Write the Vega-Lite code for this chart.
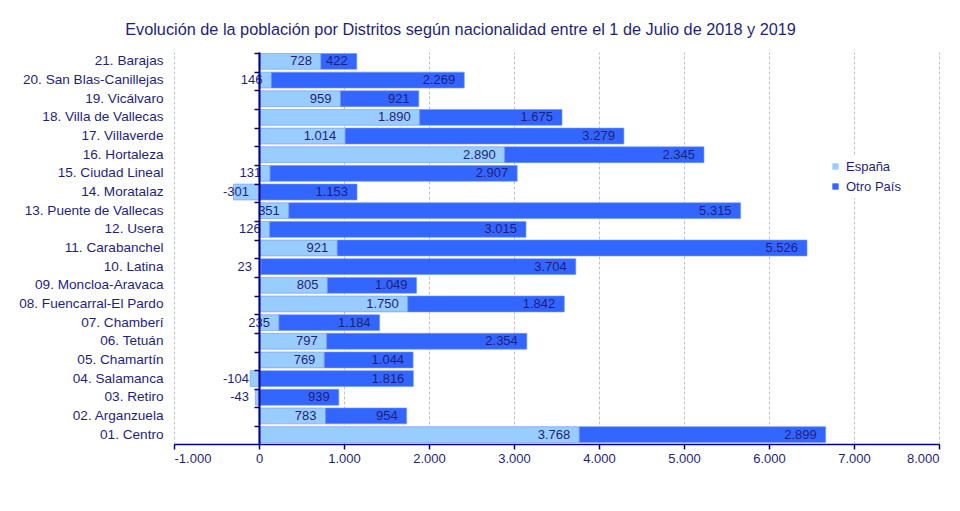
{
  "$schema": "https://vega.github.io/schema/vega-lite/v6.json",
  "autosize": "none",
  "width": 765,
  "height": 392,
  "padding": {"left": 174, "top": 52, "right": 21, "bottom": 67},
  "background": "white",
  "title": {
    "text": "Evolución  de la población por Distritos según nacionalidad  entre el 1 de Julio de 2018 y 2019",
    "anchor": "middle",
    "dx": -96,
    "offset": 14,
    "fontSize": 16.3,
    "font": "Liberation Sans",
    "fontWeight": "normal",
    "color": "#1f1f7a"
  },
  "config": {
    "locale": {"number": {"decimal": ",", "thousands": ".", "grouping": [3], "currency": ["", " €"], "minus": "-"}},
    "font": "Liberation Sans",
    "view": {"stroke": null}
  },
  "data": {
    "values": [
      {"d": "21. Barajas", "n": "España", "v": 728},
      {"d": "21. Barajas", "n": "Otro País", "v": 422},
      {"d": "20. San Blas-Canillejas", "n": "España", "v": 146},
      {"d": "20. San Blas-Canillejas", "n": "Otro País", "v": 2269},
      {"d": "19. Vicálvaro", "n": "España", "v": 959},
      {"d": "19. Vicálvaro", "n": "Otro País", "v": 921},
      {"d": "18. Villa de Vallecas", "n": "España", "v": 1890},
      {"d": "18. Villa de Vallecas", "n": "Otro País", "v": 1675},
      {"d": "17. Villaverde", "n": "España", "v": 1014},
      {"d": "17. Villaverde", "n": "Otro País", "v": 3279},
      {"d": "16. Hortaleza", "n": "España", "v": 2890},
      {"d": "16. Hortaleza", "n": "Otro País", "v": 2345},
      {"d": "15. Ciudad Lineal", "n": "España", "v": 131},
      {"d": "15. Ciudad Lineal", "n": "Otro País", "v": 2907},
      {"d": "14. Moratalaz", "n": "España", "v": -301},
      {"d": "14. Moratalaz", "n": "Otro País", "v": 1153},
      {"d": "13.  Puente de Vallecas", "n": "España", "v": 351},
      {"d": "13.  Puente de Vallecas", "n": "Otro País", "v": 5315},
      {"d": "12. Usera", "n": "España", "v": 126},
      {"d": "12. Usera", "n": "Otro País", "v": 3015},
      {"d": "11. Carabanchel", "n": "España", "v": 921},
      {"d": "11. Carabanchel", "n": "Otro País", "v": 5526},
      {"d": "10. Latina", "n": "España", "v": 23},
      {"d": "10. Latina", "n": "Otro País", "v": 3704},
      {"d": "09. Moncloa-Aravaca", "n": "España", "v": 805},
      {"d": "09. Moncloa-Aravaca", "n": "Otro País", "v": 1049},
      {"d": "08. Fuencarral-El Pardo", "n": "España", "v": 1750},
      {"d": "08. Fuencarral-El Pardo", "n": "Otro País", "v": 1842},
      {"d": "07. Chamberí", "n": "España", "v": 235},
      {"d": "07. Chamberí", "n": "Otro País", "v": 1184},
      {"d": "06. Tetuán", "n": "España", "v": 797},
      {"d": "06. Tetuán", "n": "Otro País", "v": 2354},
      {"d": "05. Chamartín", "n": "España", "v": 769},
      {"d": "05. Chamartín", "n": "Otro País", "v": 1044},
      {"d": "04. Salamanca", "n": "España", "v": -104},
      {"d": "04. Salamanca", "n": "Otro País", "v": 1816},
      {"d": "03. Retiro", "n": "España", "v": -43},
      {"d": "03. Retiro", "n": "Otro País", "v": 939},
      {"d": "02. Arganzuela", "n": "España", "v": 783},
      {"d": "02. Arganzuela", "n": "Otro País", "v": 954},
      {"d": "01. Centro", "n": "España", "v": 3768},
      {"d": "01. Centro", "n": "Otro País", "v": 2899}
    ]
  },
  "resolve": {"axis": {"y": "independent"}},
  "layer": [
    {
      "mark": {"type": "bar", "stroke": "#6f95ff", "strokeWidth": 0.6},
      "encoding": {
        "y": {
          "field": "d", "type": "nominal", "sort": "descending",
          "scale": {"paddingInner": 0.15, "paddingOuter": 0.08},
          "axis": {"title": null, "orient": "left", "ticks": false, "tickSize": 0, "domain": false, "labelPadding": 11, "labelFontSize": 13.6, "labelColor": "#1f1f7a", "labelFont": "Liberation Sans"}
        },
        "x": {
          "field": "v", "type": "quantitative", "stack": "zero",
          "scale": {"domain": [-1000, 8000], "nice": false, "zero": false},
          "axis": {
            "title": null,
            "values": [-1000, 0, 1000, 2000, 3000, 4000, 5000, 6000, 7000, 8000],
            "format": ",d",
            "grid": true, "gridDash": [3, 2], "gridColor": "#c0c0c0", "gridWidth": 1,
            "domainColor": "#000080", "domainWidth": 1.5,
            "tickColor": "#000080", "tickSize": 5, "tickWidth": 1.5,
            "labelColor": "#1f1f7a", "labelFontSize": 13, "labelPadding": 3, "labelFont": "Liberation Sans"
          }
        },
        "color": {
          "field": "n", "type": "nominal",
          "scale": {"domain": ["España", "Otro País"], "range": ["#99ccff", "#3366ff"]},
          "legend": {
            "title": null, "orient": "none", "legendX": 651, "legendY": 104,
            "symbolType": "square", "symbolSize": 40, "symbolStrokeWidth": 0,
            "labelFontSize": 13, "labelColor": "#1f1f7a", "labelFont": "Liberation Sans", "labelOffset": 4,
            "rowPadding": 6, "fillColor": "white", "padding": 4
          }
        },
        "order": {"field": "n", "type": "ordinal", "sort": "ascending"}
      }
    },
    {
      "transform": [{"filter": "datum.v >= 0"}],
      "mark": {"type": "text", "align": "right", "baseline": "middle", "dx": -9, "fontSize": 13, "color": "#1f1f7a", "font": "Liberation Sans"},
      "encoding": {
        "y": {
          "field": "d", "type": "nominal", "sort": "descending",
          "axis": {"title": null, "orient": "left", "offset": -85, "zindex": 1, "labels": false, "domain": true, "ticks": true, "bandPosition": 0, "tickSize": 5, "domainColor": "#000080", "domainWidth": 2, "tickColor": "#000080", "tickWidth": 1.5, "grid": false}
        },
        "x": {"field": "v", "type": "quantitative", "stack": "zero"},
        "detail": {"field": "n", "type": "nominal"},
        "order": {"field": "n", "type": "ordinal", "sort": "ascending"},
        "text": {"field": "v", "type": "quantitative", "format": ",d"}
      }
    },
    {
      "transform": [{"filter": "datum.v < 0"}],
      "mark": {"type": "text", "align": "right", "baseline": "middle", "dx": -10, "fontSize": 13, "color": "#1f1f7a", "font": "Liberation Sans"},
      "encoding": {
        "y": {"field": "d", "type": "nominal", "sort": "descending", "axis": null},
        "x": {"datum": 0, "type": "quantitative"},
        "text": {"field": "v", "type": "quantitative", "format": ",d"}
      }
    }
  ]
}
